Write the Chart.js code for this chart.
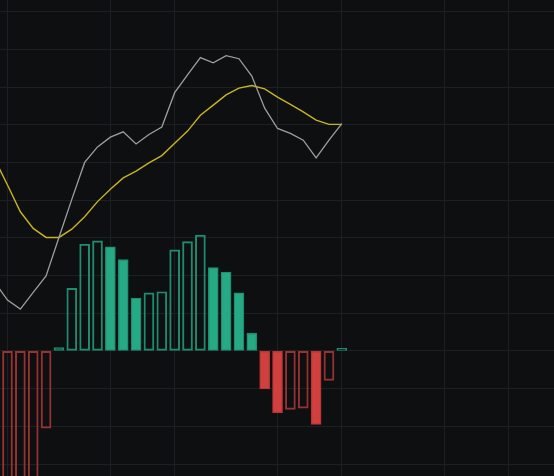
<!DOCTYPE html>
<html>
<head>
<meta charset="utf-8">
<script src="https://cdn.jsdelivr.net/npm/chart.js@4/dist/chart.umd.min.js"></script>
<style>
  html, body { margin: 0; padding: 0; background: #0e0f11; }
  #wrap { width: 554px; height: 476px; position: relative; }
</style>
</head>
<body>
<div id="wrap"><canvas id="c"></canvas></div>
<script>
// Index of the first data point (one point sits just left of the visible area)
const startIndex = -1;
// DIF (grey line)
const dif = [1.82, 1.35, 1.11, 1.55, 1.99, 3.01, 4.02, 5.00, 5.41, 5.67, 5.81, 5.49, 5.74, 5.94,
             6.85, 7.32, 7.78, 7.64, 7.83, 7.75, 7.29, 6.44, 5.90, 5.77, 5.59, 5.12, 5.59, 6.03];
// DEA (yellow line)
const dea = [5.09, 4.40, 3.69, 3.25, 3.01, 3.01, 3.23, 3.56, 3.96, 4.29, 4.59, 4.77, 4.99, 5.18,
             5.51, 5.83, 6.25, 6.52, 6.79, 6.97, 7.04, 6.95, 6.73, 6.54, 6.34, 6.12, 6.01, 6.01];
// MACD histogram
const hist = [-6.5, -6.1, -5.2, -3.4, -2.05, 0.09, 1.66, 2.83, 2.92, 2.76, 2.42, 1.40, 1.54, 1.57,
              2.68, 2.90, 3.07, 2.21, 2.09, 1.54, 0.47, -1.01, -1.64, -1.55, -1.52, -1.95, -0.78, 0.07];
// Vertical grid line positions (bar indices)
const xGridTicks = [0, 8, 13, 21, 26, 34, 39];
// Horizontal grid line values
const yGridTicks = [-3, -2, -1, 0, 1, 2, 3, 4, 5, 6, 7, 8, 9];
// Axis extents
const xRange = [-0.583, 42.5];
const yRange = [-3.318, 9.308];

const toPts = arr => arr.map((v, k) => ({ x: startIndex + k, y: v }));

const GREEN = '#26a985', GREEN_B = '#1f8e6e', GREEN_H = '#1f8c6c';
const RED = '#d13f3f', RED_B = '#b83636', RED_H = '#963232';

function rising(k) { return k === 0 ? true : hist[k] >= hist[k - 1]; }

const histBg = hist.map((v, k) => rising(k) ? 'rgba(0,0,0,0)' : (v >= 0 ? GREEN : RED));
const histBorder = hist.map((v, k) => rising(k) ? (v >= 0 ? GREEN_H : RED_H) : (v >= 0 ? GREEN_B : RED_B));

new Chart(document.getElementById('c'), {
  data: {
    datasets: [
      {
        type: 'line', data: toPts(dif), borderColor: '#9e9e9e', borderWidth: 1.3,
        pointRadius: 0, tension: 0, order: 1
      },
      {
        type: 'line', data: toPts(dea), borderColor: '#c8b420', borderWidth: 1.4,
        pointRadius: 0, tension: 0, order: 2
      },
      {
        type: 'bar', data: toPts(hist), backgroundColor: histBg, borderColor: histBorder,
        borderWidth: 1.3, borderSkipped: false, barThickness: 10, order: 3
      }
    ]
  },
  options: {
    responsive: true,
    maintainAspectRatio: false,
    animation: false,
    layout: { padding: 0 },
    plugins: { legend: { display: false }, tooltip: { enabled: false } },
    scales: {
      x: {
        type: 'linear', min: xRange[0], max: xRange[1], offset: false,
        afterBuildTicks: s => { s.ticks = xGridTicks.map(v => ({ value: v })); },
        ticks: { display: false },
        grid: { color: '#1d1f23', lineWidth: 1, drawTicks: false, offset: false },
        border: { display: false }
      },
      y: {
        type: 'linear', min: yRange[0], max: yRange[1],
        afterBuildTicks: s => { s.ticks = yGridTicks.map(v => ({ value: v })); },
        ticks: { display: false },
        grid: { color: '#1d1f23', lineWidth: 1, drawTicks: false },
        border: { display: false }
      }
    }
  }
});
</script>
</body>
</html>
